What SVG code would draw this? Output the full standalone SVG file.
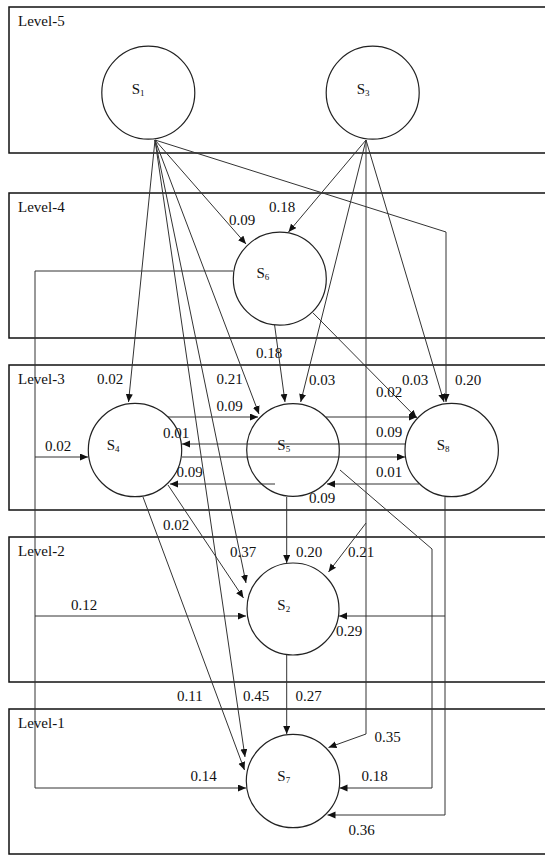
<svg xmlns="http://www.w3.org/2000/svg" width="545" height="857" viewBox="0 0 545 857">
<defs>
<marker id="ah" markerUnits="userSpaceOnUse" markerWidth="9" markerHeight="8" refX="8" refY="3.5" orient="auto">
<path d="M0,0 L8,3.5 L0,7 z" fill="#111"/>
</marker>
<style>
.lvl{fill:none;stroke:#111;stroke-width:1.5}
.lt{font-family:"Liberation Serif","Times New Roman",serif;font-size:15px;fill:#111}
.node circle{fill:none;stroke:#222;stroke-width:1.2}
.nt{font-family:"Liberation Serif","Times New Roman",serif;font-size:15px;fill:#111}
.sub{font-size:9px}
.c{fill:none;stroke:#333;stroke-width:1}
.a{marker-end:url(#ah)}
.w{font-family:"Liberation Serif","Times New Roman",serif;font-size:15px;fill:#111}
</style>
</defs>
<rect width="545" height="857" fill="#fff"/>
<g id="levels">
<rect class="lvl" x="9" y="7" width="560" height="146"/>
<rect class="lvl" x="9" y="193" width="560" height="145"/>
<rect class="lvl" x="9" y="365" width="560" height="145"/>
<rect class="lvl" x="9" y="537" width="560" height="145"/>
<rect class="lvl" x="9" y="709" width="560" height="145"/>
<text class="lt" x="18" y="26">Level-5</text>
<text class="lt" x="18" y="212">Level-4</text>
<text class="lt" x="18" y="384">Level-3</text>
<text class="lt" x="18" y="556">Level-2</text>
<text class="lt" x="18" y="728">Level-1</text>
</g>
<g id="connectors">
<path class="c a" d="M155,140 L128.5,402"/>
<path class="c a" d="M155,140 L246,244"/>
<path class="c a" d="M155,140 L259,414"/>
<path class="c a" d="M155,140 L446,232 L446,402"/>
<path class="c a" d="M155,140 L246,583"/>
<path class="c a" d="M155,140 L245,757"/>
<path class="c a" d="M366,140 L288.5,232"/>
<path class="c a" d="M366,140 L300.7,402"/>
<path class="c a" d="M366,140 L444,402"/>
<path class="c a" d="M366,140 L366,734 L328.5,747.5"/>
<path class="c a" d="M366,523 L328.5,572"/>
<path class="c a" d="M274.6,325 L285,402"/>
<path class="c a" d="M312.8,312.7 L416.7,418"/>
<path class="c a" d="M233,271 L35,271 L35,788 L246,788"/>
<path class="c a" d="M35,457 L88,457"/>
<path class="c a" d="M35,616 L246,616"/>
<path class="c a" d="M168,417 L258,417"/>
<path class="c a" d="M326,417 L417,417"/>
<path class="c a" d="M405,444 L182,444"/>
<path class="c a" d="M182,457 L405,457"/>
<path class="c a" d="M275,484 L170,484"/>
<path class="c a" d="M419,484 L327,484"/>
<path class="c a" d="M168,485 L243.5,598"/>
<path class="c a" d="M143,497 L244.5,770"/>
<path class="c a" d="M286.7,497 L286.7,563"/>
<path class="c a" d="M286.7,655 L286.7,734"/>
<path class="c a" d="M340,470 L432,549 L432,788 L339.5,788"/>
<path class="c a" d="M445,497 L445,815 L327.5,815"/>
<path class="c a" d="M445,616 L339,616"/>
</g>
<g id="edge-labels">
<text class="w" x="229" y="225">0.09</text>
<text class="w" x="269" y="212">0.18</text>
<text class="w" x="256" y="358">0.18</text>
<text class="w" x="97" y="384">0.02</text>
<text class="w" x="216.5" y="384">0.21</text>
<text class="w" x="216.5" y="410.5">0.09</text>
<text class="w" x="163" y="438">0.01</text>
<text class="w" x="45" y="450.5">0.02</text>
<text class="w" x="176.5" y="477">0.09</text>
<text class="w" x="163" y="530">0.02</text>
<text class="w" x="309" y="385">0.03</text>
<text class="w" x="402" y="385">0.03</text>
<text class="w" x="455" y="385">0.20</text>
<text class="w" x="376" y="397">0.02</text>
<text class="w" x="376" y="437">0.09</text>
<text class="w" x="376" y="477">0.01</text>
<text class="w" x="309" y="503">0.09</text>
<text class="w" x="230" y="556.5">0.37</text>
<text class="w" x="296" y="556.5">0.20</text>
<text class="w" x="348" y="556.5">0.21</text>
<text class="w" x="71" y="610">0.12</text>
<text class="w" x="336" y="636">0.29</text>
<text class="w" x="177" y="701">0.11</text>
<text class="w" x="243" y="701">0.45</text>
<text class="w" x="295.5" y="701">0.27</text>
<text class="w" x="374.5" y="741.5">0.35</text>
<text class="w" x="190.5" y="781">0.14</text>
<text class="w" x="361.5" y="781">0.18</text>
<text class="w" x="348.5" y="835">0.36</text>
</g>
<g id="S1" class="node"><circle cx="148.3" cy="92.7" r="46.5"/><text class="nt" x="131.7" y="94">S<tspan class="sub" dy="2">1</tspan></text></g>
<g id="S3" class="node"><circle cx="372.7" cy="92.7" r="46.5"/><text class="nt" x="356.7" y="94">S<tspan class="sub" dy="2">3</tspan></text></g>
<g id="S6" class="node"><circle cx="279.8" cy="278.7" r="46.5"/><text class="nt" x="256.5" y="278">S<tspan class="sub" dy="2">6</tspan></text></g>
<g id="S4" class="node"><circle cx="135" cy="450" r="46.7"/><text class="nt" x="106.7" y="450">S<tspan class="sub" dy="2">4</tspan></text></g>
<g id="S5" class="node"><circle cx="293" cy="450" r="46.3"/><text class="nt" x="277.3" y="450">S<tspan class="sub" dy="2">5</tspan></text></g>
<g id="S8" class="node"><circle cx="451.7" cy="450" r="46.7"/><text class="nt" x="436.7" y="450">S<tspan class="sub" dy="2">8</tspan></text></g>
<g id="S2" class="node"><circle cx="293" cy="609" r="46"/><text class="nt" x="277.3" y="610">S<tspan class="sub" dy="2">2</tspan></text></g>
<g id="S7" class="node"><circle cx="293" cy="781" r="46.7"/><text class="nt" x="277.3" y="781">S<tspan class="sub" dy="2">7</tspan></text></g>
</svg>
